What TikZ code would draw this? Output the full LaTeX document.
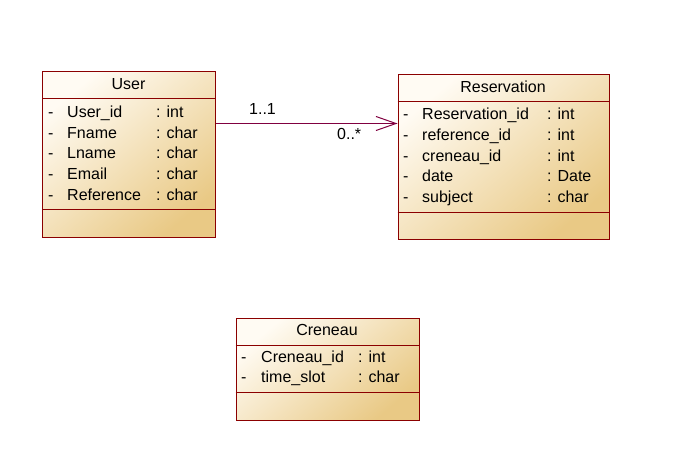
\documentclass[tikz,border=0pt]{standalone}
\usepackage{fontspec}
\setmainfont{Liberation Sans}
\usetikzlibrary{arrows.meta}
\definecolor{boxborder}{RGB}{139,0,0}
\definecolor{assoccol}{RGB}{128,0,64}
\definecolor{filllight}{RGB}{255,251,243}
\definecolor{filldark}{RGB}{233,201,133}
\tikzset{
  classbox/.style={draw=boxborder, line width=1pt, anchor=north west, inner sep=0pt,
    top color=filllight, bottom color=filldark, shading angle=40},
  sepline/.style={draw=boxborder, line width=1pt},
  title/.style={anchor=base, inner sep=0pt, font=\fontsize{16}{18}\selectfont},
  attr/.style={anchor=base west, inner sep=0pt, font=\fontsize{16}{18}\selectfont},
  assoc/.style={draw=assoccol, line width=1pt, -{Straight Barb[length=20pt,width=14pt,line width=1pt]}},
  mult/.style={anchor=base west, inner sep=0pt, font=\fontsize{16}{18}\selectfont},
}
\begin{document}
\begin{tikzpicture}[x=1pt,y=-1pt]
\useasboundingbox (0,0) rectangle (678,463);
% User
\node[classbox, minimum width=173pt, minimum height=166pt] (user) at (42,71) {};
\draw[sepline] (42,98) -- (215,98);
\draw[sepline] (42,209) -- (215,209);
\node[title] (usertitle) at (128.5,89) {User};
\foreach \n/\t/\y [count=\i] in {User\_id/int/117.3, Fname/char/138, Lname/char/158.7, Email/char/179.4, Reference/char/200.1}{
  \node[attr] (ud\i) at (48,\y) {-};
  \node[attr] (un\i) at (67,\y) {\n};
  \node[attr] (ut\i) at (156,\y) {: \t};
}
% Reservation
\node[classbox, minimum width=211pt, minimum height=165pt] (res) at (397.5,74) {};
\draw[sepline] (397.5,101) -- (608.5,101);
\draw[sepline] (397.5,212) -- (608.5,212);
\node[title] (restitle) at (503,92) {Reservation};
\foreach \n/\t/\y [count=\i] in {Reservation\_id/int/119.7, reference\_id/int/140.4, creneau\_id/int/161.1, date/Date/181.8, subject/char/202.5}{
  \node[attr] (rd\i) at (403,\y) {-};
  \node[attr] (rn\i) at (422,\y) {\n};
  \node[attr] (rt\i) at (547,\y) {: \t};
}
% Creneau
\node[classbox, minimum width=183pt, minimum height=102pt] (cre) at (235.5,318) {};
\draw[sepline] (235.5,345) -- (418.5,345);
\draw[sepline] (235.5,392) -- (418.5,392);
\node[title] (cretitle) at (327,335.5) {Creneau};
\foreach \n/\t/\y [count=\i] in {Creneau\_id/int/362, time\_slot/char/382.7}{
  \node[attr] (cd\i) at (241,\y) {-};
  \node[attr] (cn\i) at (261,\y) {\n};
  \node[attr] (ct\i) at (358,\y) {: \t};
}
% association
\coordinate (assocy) at (0,123.5);
\draw[assoc] (user.east |- assocy) -- (res.west |- assocy);
\node[mult] (m1) at (249,114) {1..1};
\node[mult] (m2) at (337,139) {0..*};
\end{tikzpicture}
\end{document}
